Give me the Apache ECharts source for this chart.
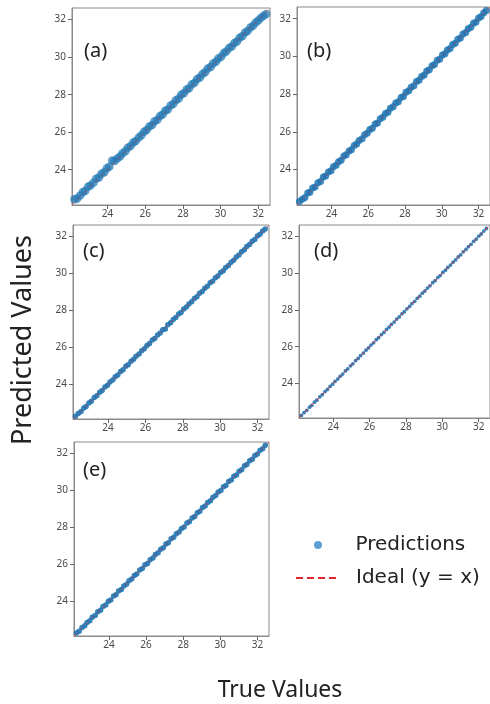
<!DOCTYPE html>
<html>
<head>
<meta charset="utf-8">
<script src="https://cdn.jsdelivr.net/npm/echarts@6/dist/echarts.min.js"></script>
<style>html,body{margin:0;padding:0;background:#fff}#c{width:490px;height:704px}</style>
</head>
<body>
<div id="c"></div>
<script>
// ---- data ----
const panelLabels = ['(a)', '(b)', '(c)', '(d)', '(e)'];
const tickValues = [24, 26, 28, 30, 32];
const idealEnds = [22.12, 32.62];
const trueVals = [22.25,22.4,22.55,22.7,22.82,22.97,23.1,23.26,23.4,23.55,23.68,23.83,23.97,24.1,24.25,24.38,24.52,24.67,24.8,24.95,25.08,25.23,25.37,25.5,25.66,25.8,25.94,26.08,26.22,26.37,26.5,26.65,26.79,26.93,27.07,27.2,27.35,27.49,27.63,27.78,27.91,28.05,28.2,28.33,28.48,28.62,28.76,28.9,29.04,29.18,29.32,29.47,29.6,29.75,29.88,30.03,30.17,30.3,30.45,30.59,30.73,30.87,31.01,31.15,31.3,31.43,31.58,31.72,31.86,32.0,32.14,32.28,32.42];
const predA = [22.42,22.47,22.62,22.81,22.86,23.09,23.16,23.31,23.52,23.58,23.79,23.86,24.08,24.16,24.49,24.47,24.6,24.71,24.88,24.99,25.17,25.26,25.45,25.53,25.72,25.84,26.03,26.12,26.3,26.38,26.58,26.67,26.86,26.95,27.15,27.21,27.42,27.5,27.7,27.8,27.99,28.07,28.27,28.34,28.55,28.63,28.83,28.91,29.1,29.19,29.39,29.47,29.66,29.75,29.93,30.02,30.22,30.3,30.49,30.57,30.76,30.84,31.03,31.12,31.31,31.39,31.58,31.67,31.85,31.95,32.1,32.21,32.3];
const predB = [22.31,22.43,22.52,22.75,22.8,23.02,23.08,23.3,23.37,23.6,23.66,23.87,23.94,24.15,24.23,24.42,24.49,24.72,24.78,24.99,25.05,25.28,25.35,25.54,25.63,25.85,25.92,26.12,26.19,26.41,26.47,26.7,26.77,26.97,27.04,27.25,27.33,27.53,27.6,27.82,27.88,28.1,28.18,28.37,28.45,28.67,28.74,28.94,29.01,29.22,29.29,29.51,29.57,29.79,29.85,30.07,30.14,30.34,30.42,30.63,30.7,30.91,30.98,31.19,31.27,31.47,31.55,31.76,31.83,32.04,32.11,32.32,32.44];
const predC = [22.27,22.42,22.53,22.72,22.8,22.99,23.08,23.28,23.38,23.57,23.66,23.85,23.95,24.12,24.23,24.4,24.5,24.69,24.78,24.97,25.06,25.25,25.35,25.52,25.64,25.82,25.92,26.1,26.2,26.39,26.48,26.67,26.77,26.95,26.99,27.22,27.33,27.51,27.61,27.8,27.89,28.07,28.18,28.35,28.46,28.64,28.74,28.92,29.02,29.2,29.3,29.49,29.58,29.77,29.86,30.05,30.15,30.32,30.43,30.61,30.71,30.89,30.99,31.17,31.28,31.45,31.56,31.74,31.84,32.02,32.12,32.3,32.41];
const predD = [22.26,22.41,22.54,22.71,22.81,22.98,23.09,23.27,23.39,23.56,23.67,23.84,23.96,24.11,24.24,24.39,24.51,24.68,24.79,24.96,25.07,25.24,25.36,25.51,25.65,25.81,25.93,26.09,26.21,26.38,26.49,26.66,26.78,26.94,27.06,27.21,27.34,27.5,27.62,27.79,27.9,28.06,28.19,28.34,28.47,28.63,28.75,28.91,29.03,29.19,29.31,29.48,29.59,29.76,29.87,30.04,30.16,30.31,30.44,30.6,30.72,30.88,31.0,31.16,31.29,31.44,31.57,31.73,31.85,32.01,32.13,32.29,32.43];
const predE = [22.28,22.38,22.58,22.68,22.85,22.95,23.13,23.23,23.43,23.52,23.71,23.8,24.0,24.07,24.28,24.35,24.55,24.64,24.83,24.92,25.11,25.2,25.4,25.47,25.69,25.77,25.97,26.05,26.25,26.34,26.53,26.62,26.82,26.9,27.1,27.17,27.38,27.46,27.66,27.75,27.94,28.02,28.23,28.3,28.51,28.59,28.79,28.87,29.07,29.15,29.35,29.44,29.63,29.72,29.91,30.0,30.2,30.27,30.48,30.56,30.76,30.84,31.04,31.12,31.33,31.4,31.61,31.69,31.89,31.97,32.17,32.25,32.45];
const predictions = [predA, predB, predC, predD, predE];

// ---- layout / style ----
const grids = [
  {left: 72, top: 8, width: 198, height: 197},
  {left: 297, top: 7, width: 200, height: 198},
  {left: 73, top: 225, width: 196, height: 194},
  {left: 299, top: 225, width: 198, height: 193},
  {left: 74, top: 442, width: 195, height: 194}
];
const labelPos = [[84, 41], [307, 41], [83, 241], [314, 241], [83, 460]];
const symSizes = [8.5, 7, 5.5, 3.8, 5.5];
const symOpacity = [0.7, 0.85, 0.9, 0.9, 0.9];
const redOpacity = [0.5, 0.5, 0.6, 0.9, 0.6];
const FONT = 'Noto Sans';
const LEGEND_FONT = 'DejaVu Sans';

function axis(i, isY) {
  return {
    type: 'value', gridIndex: i, min: idealEnds[0], max: idealEnds[1],
    splitLine: {show: false},
    axisLine: {show: true, lineStyle: {color: '#8a8a8a', width: 1}},
    axisTick: {show: true, length: 4, customValues: tickValues, lineStyle: {color: '#666'}},
    axisLabel: {show: true, customValues: tickValues, margin: isY ? 6 : 4, fontSize: 10, color: '#4a4a4a', fontFamily: FONT}
  };
}

const option = {
  animation: false,
  backgroundColor: '#fff',
  grid: grids.map(g => Object.assign({show: true, borderColor: '#8a8a8a', borderWidth: 1, backgroundColor: '#fff'}, g)),
  xAxis: grids.map((g, i) => axis(i, false)),
  yAxis: grids.map((g, i) => axis(i, true)),
  title: panelLabels.map((t, i) => ({
    text: t, left: labelPos[i][0], top: labelPos[i][1], padding: 0,
    textStyle: {fontSize: 20, fontWeight: 'normal', color: '#222', fontFamily: FONT}
  })),
  legend: [
    {data: [{name: 'Predictions', itemStyle: {color: '#5e9fd3', opacity: 1}}], left: 309, top: 530, orient: 'vertical',
      itemWidth: 37, itemHeight: 8, formatter: n => '{gap|}' + n,
      textStyle: {fontSize: 20, color: '#222', fontFamily: LEGEND_FONT, rich: {gap: {width: 14}}}},
    {data: [{name: 'Ideal (y = x)', itemStyle: {opacity: 0}, lineStyle: {width: 2, type: [7, 4], color: '#e3262b', opacity: 1}}],
      left: 290, top: 563, orient: 'vertical',
      itemWidth: 42, itemHeight: 14, formatter: n => '{gap|}' + n,
      textStyle: {fontSize: 20, color: '#222', fontFamily: LEGEND_FONT, rich: {gap: {width: 13}}}}
  ],
  graphic: [
    {type: 'text', x: 23, y: 340, rotation: Math.PI / 2,
      style: {text: 'Predicted Values', font: '27px "Noto Sans"', fill: '#222', textAlign: 'center', textVerticalAlign: 'middle'}},
    {type: 'text', x: 280, y: 690,
      style: {text: 'True Values', font: '23px "Noto Sans"', fill: '#222', textAlign: 'center', textVerticalAlign: 'middle'}}
  ],
  series: []
};

predictions.forEach((p, i) => {
  option.series.push({
    type: 'scatter', name: 'Predictions', xAxisIndex: i, yAxisIndex: i,
    symbolSize: symSizes[i], z: 2,
    itemStyle: {color: '#1f77b4', opacity: symOpacity[i]},
    data: trueVals.map((t, k) => [t, p[k]])
  });
});
predictions.forEach((p, i) => {
  option.series.push({
    type: 'line', name: 'Ideal (y = x)', xAxisIndex: i, yAxisIndex: i,
    symbol: 'none', z: 3, silent: true,
    lineStyle: {color: '#e3262b', width: 1, type: [5, 3], opacity: redOpacity[i]},
    itemStyle: {color: '#e3262b'},
    data: [[idealEnds[0], idealEnds[0]], [idealEnds[1], idealEnds[1]]]
  });
});

const chart = echarts.init(document.getElementById('c'), null, {renderer: 'canvas'});
chart.setOption(option);
</script>
</body>
</html>
